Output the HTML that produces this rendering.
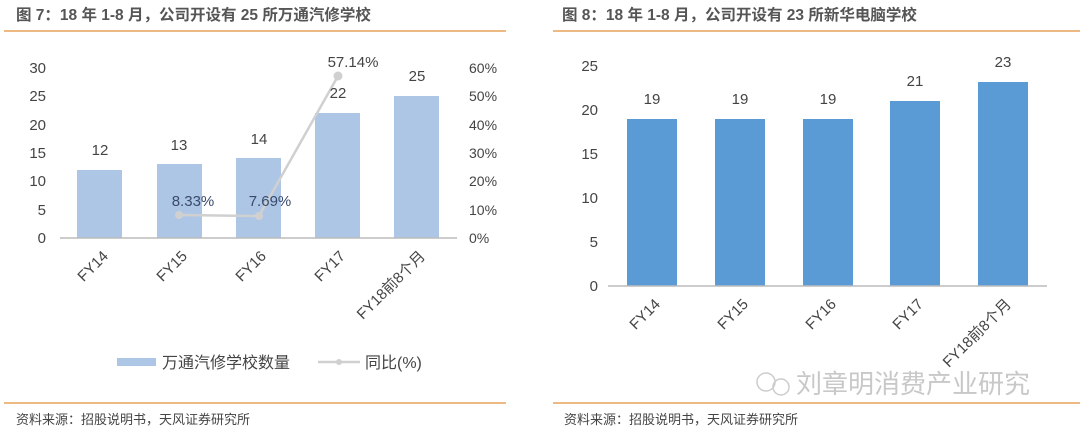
<!DOCTYPE html>
<html><head><meta charset="utf-8"><style>
body{margin:0;background:#fff;width:1080px;height:437px;overflow:hidden}
svg{font-family:"Liberation Sans","Noto Sans CJK SC",sans-serif}
</style></head><body>
<svg width="1080" height="437" xmlns="http://www.w3.org/2000/svg">
<g font-weight="bold" font-size="15.5" fill="#555">
<text x="16" y="20">图 7：18 年 1-8 月，公司开设有 25 所万通汽修学校</text>
<text x="562" y="20">图 8：18 年 1-8 月，公司开设有 23 所新华电脑学校</text>
</g>
<line x1="4" y1="31" x2="506" y2="31" stroke="#e9a35a" stroke-width="1.5"/>
<line x1="553" y1="31" x2="1080" y2="31" stroke="#e9a35a" stroke-width="1.5"/>
<line x1="4" y1="403" x2="506" y2="403" stroke="#e9a35a" stroke-width="1.5"/>
<line x1="553" y1="403" x2="1080" y2="403" stroke="#e9a35a" stroke-width="1.5"/>
<g font-size="13" fill="#444">
<text x="16" y="424">资料来源：招股说明书，天风证券研究所</text>
<text x="564" y="424">资料来源：招股说明书，天风证券研究所</text>
</g>
<!-- left chart -->
<g font-size="15" fill="#444" text-anchor="end">
<text x="46" y="73">30</text><text x="46" y="101">25</text><text x="46" y="130">20</text>
<text x="46" y="158">15</text><text x="46" y="186">10</text><text x="46" y="215">5</text><text x="46" y="243">0</text>
</g>
<g font-size="14" fill="#444">
<text x="469" y="73">60%</text><text x="469" y="101">50%</text><text x="469" y="130">40%</text>
<text x="469" y="158">30%</text><text x="469" y="186">20%</text><text x="469" y="215">10%</text><text x="469" y="243">0%</text>
</g>
<g fill="#adc6e5">
<rect x="77" y="170" width="45" height="68"/>
<rect x="157" y="164" width="45" height="74"/>
<rect x="236" y="158" width="45" height="80"/>
<rect x="315" y="113" width="45" height="125"/>
<rect x="394" y="96" width="45" height="142"/>
</g>
<line x1="60" y1="238" x2="457" y2="238" stroke="#bbb" stroke-width="1.5"/>
<polyline points="179,215 259,216 338,76" fill="none" stroke="#d0d0d0" stroke-width="2.5"/>
<g fill="#d0d0d0"><circle cx="179" cy="215" r="4"/><circle cx="259" cy="216" r="4"/><circle cx="338" cy="76" r="4.5"/></g>
<g font-size="15" fill="#444" text-anchor="middle">
<text x="100" y="155">12</text><text x="179" y="150">13</text><text x="259" y="144">14</text>
<text x="338" y="98">22</text><text x="417" y="81">25</text>
<text x="193" y="206" fill="#3a4a6a">8.33%</text><text x="270" y="206" fill="#3a4a6a">7.69%</text>
<text x="353" y="67">57.14%</text>
</g>
<g font-size="15" fill="#444" text-anchor="end">
<text transform="translate(109,257) rotate(-45)">FY14</text>
<text transform="translate(188,257) rotate(-45)">FY15</text>
<text transform="translate(267,257) rotate(-45)">FY16</text>
<text transform="translate(346,257) rotate(-45)">FY17</text>
<text transform="translate(426,257) rotate(-45)">FY18前8个月</text>
</g>
<rect x="117" y="358" width="39" height="8" fill="#adc6e5"/>
<text x="162" y="368" font-size="16" fill="#444">万通汽修学校数量</text>
<line x1="318" y1="362" x2="360" y2="362" stroke="#d0d0d0" stroke-width="2.5"/>
<circle cx="339" cy="362" r="3" fill="#d0d0d0"/>
<text x="365" y="368" font-size="16" fill="#444">同比(%)</text>
<!-- right chart -->
<g font-size="15" fill="#444" text-anchor="end">
<text x="598" y="71">25</text><text x="598" y="115">20</text><text x="598" y="159">15</text>
<text x="598" y="203">10</text><text x="598" y="247">5</text><text x="598" y="291">0</text>
</g>
<g fill="#5b9bd5">
<rect x="627" y="119" width="50" height="167"/>
<rect x="715" y="119" width="50" height="167"/>
<rect x="803" y="119" width="50" height="167"/>
<rect x="890" y="101" width="50" height="185"/>
<rect x="978" y="82" width="50" height="204"/>
</g>
<line x1="608" y1="286" x2="1047" y2="286" stroke="#bbb" stroke-width="1.5"/>
<g font-size="15" fill="#444" text-anchor="middle">
<text x="652" y="104">19</text><text x="740" y="104">19</text><text x="828" y="104">19</text>
<text x="915" y="86">21</text><text x="1003" y="67">23</text>
</g>
<g font-size="15" fill="#444" text-anchor="end">
<text transform="translate(661,305) rotate(-45)">FY14</text>
<text transform="translate(749,305) rotate(-45)">FY15</text>
<text transform="translate(837,305) rotate(-45)">FY16</text>
<text transform="translate(924,305) rotate(-45)">FY17</text>
<text transform="translate(1012,305) rotate(-45)">FY18前8个月</text>
</g>
<text x="796" y="393" font-size="26" fill="#c8c8c8">刘章明消费产业研究</text>
<circle cx="766" cy="382" r="9" fill="none" stroke="#ccc" stroke-width="1.5"/>
<circle cx="781" cy="387" r="8" fill="none" stroke="#ccc" stroke-width="1.5"/>
</svg>
</body></html>
